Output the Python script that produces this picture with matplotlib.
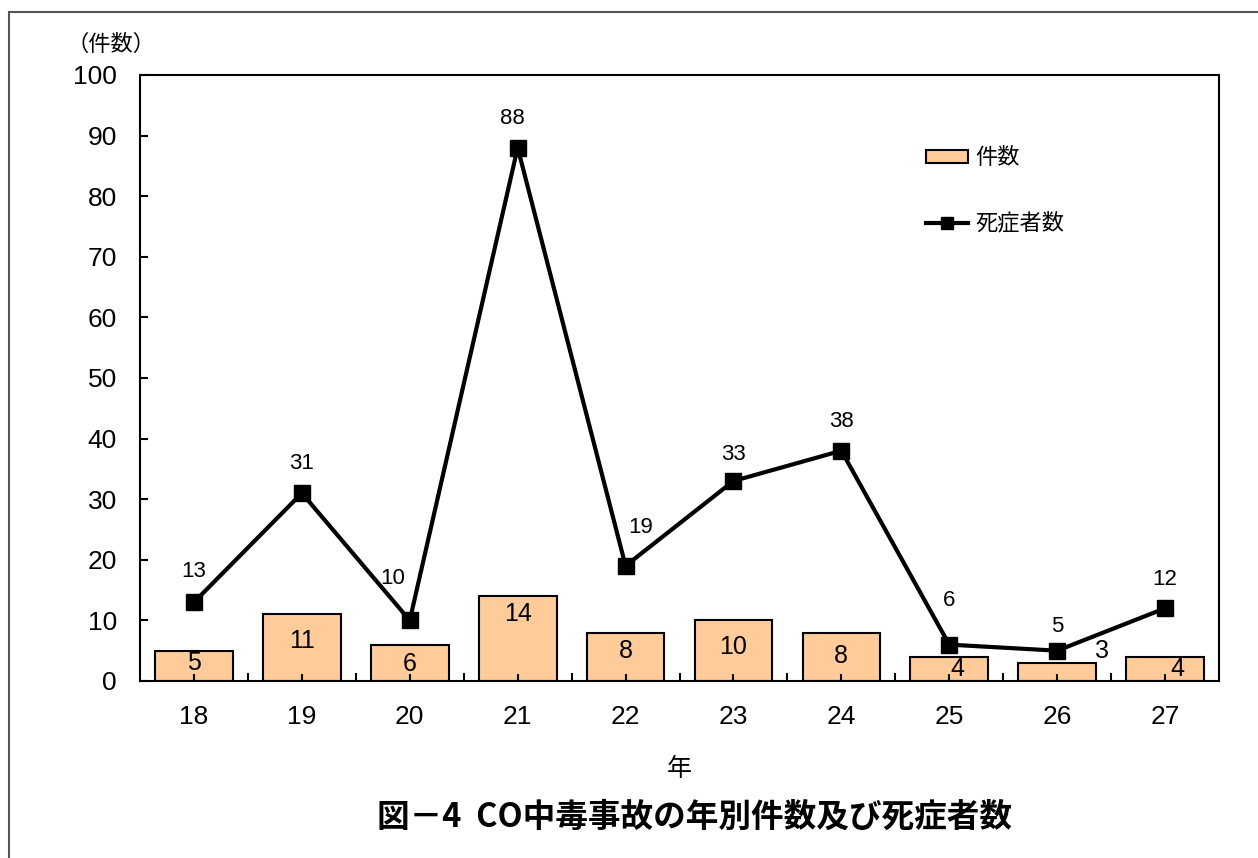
import matplotlib
matplotlib.use("Agg")
import matplotlib.pyplot as plt
import numpy as np
from matplotlib.lines import Line2D
from matplotlib.patches import Patch, Rectangle

plt.rcParams["font.family"] = ["Liberation Sans", "Noto Sans CJK JP", "DejaVu Sans"]
JP = ["Noto Sans CJK JP", "DejaVu Sans"]

# Heisei years and the CO poisoning figures for each
years = ["18", "19", "20", "21", "22", "23", "24", "25", "26", "27"]
accidents = [5, 11, 6, 14, 8, 10, 8, 4, 3, 4]
casualties = [13, 31, 10, 88, 19, 33, 38, 6, 5, 12]

# hand-placed label offsets in pixels (dx, dy)
bar_label_offsets = [(0, -12), (0, -27), (0, -19), (0, -18), (0, -18),
                     (0, -27), (0, -23), (8, -12), (45, 12), (12, -12)]
line_label_offsets = [(0, 31), (0, 30), (-17, 42), (-5, 29), (15, 38),
                      (0, 27), (0, 29), (0, 44), (0, 24), (0, 29)]

BAR_COLOR = "#FFCC99"

fig = plt.figure(figsize=(12.58, 8.58), dpi=100)
ax = fig.add_axes([0.1113, 0.2063, 0.8577, 0.7063])

# outer frame (only top and left edges fall inside the canvas)
fig.patches.append(Rectangle((9 / 1258, -0.1), 1.2, 1 - 12 / 858 + 0.1,
                             transform=fig.transFigure, fill=False,
                             edgecolor="#555555", linewidth=1.5))

x = np.arange(len(years))
bars = ax.bar(x, accidents, width=0.72, color=BAR_COLOR, edgecolor="black",
              linewidth=1.5, zorder=1)
ax.plot(x, casualties, color="black", linewidth=3, marker="s",
        markersize=12, zorder=3, clip_on=False)

for xi, v, (dx, dy) in zip(x, accidents, bar_label_offsets):
    ax.annotate(str(v), xy=(xi, v), xytext=(dx, dy), textcoords="offset pixels",
                ha="center", va="center", fontsize=18, zorder=4)

for xi, v, (dx, dy) in zip(x, casualties, line_label_offsets):
    ax.annotate(str(v), xy=(xi, v), xytext=(dx, dy), textcoords="offset pixels",
                ha="center", va="center", fontsize=16, zorder=4)

ax.set_xlim(-0.5, len(years) - 0.5)
ax.set_ylim(0, 100)
ax.set_yticks(np.arange(0, 101, 10))
ax.set_xticks(x)
ax.set_xticklabels(years)
ax.set_xticks(np.arange(0.5, len(years) - 1, 1), minor=True)

ax.tick_params(axis="y", direction="in", length=6, width=1.5, pad=16.5,
               labelsize=19)
ax.tick_params(axis="x", which="major", direction="in", length=5, width=1.5,
               pad=17, labelsize=19)
ax.tick_params(axis="x", which="minor", direction="in", length=6, width=1.5)

for spine in ax.spines.values():
    spine.set_linewidth(1.5)

ax.set_xlabel("年", fontsize=18, family=JP, labelpad=20)

fig.text(0.088, 1 - 44 / 858, "（件数）", fontsize=16, family=JP,
         ha="center", va="center")
fig.text(0.552, 1 - 817 / 858, "図－4  CO中毒事故の年別件数及び死症者数",
         fontsize=23.5, family=JP, fontweight="bold", ha="center", va="center")

handles = [
    Patch(facecolor=BAR_COLOR, edgecolor="black", linewidth=1.5),
    Line2D([0], [0], color="black", linewidth=3, marker="s", markersize=9),
]
leg = ax.legend(handles, ["件数", "死症者数"], loc="upper left",
                bbox_to_anchor=(0.71, 0.915), frameon=False,
                prop={"family": JP, "size": 16}, handlelength=1.9,
                handleheight=0.5, handletextpad=0.3, labelspacing=1.9)

fig.savefig("out.png", dpi=100)
